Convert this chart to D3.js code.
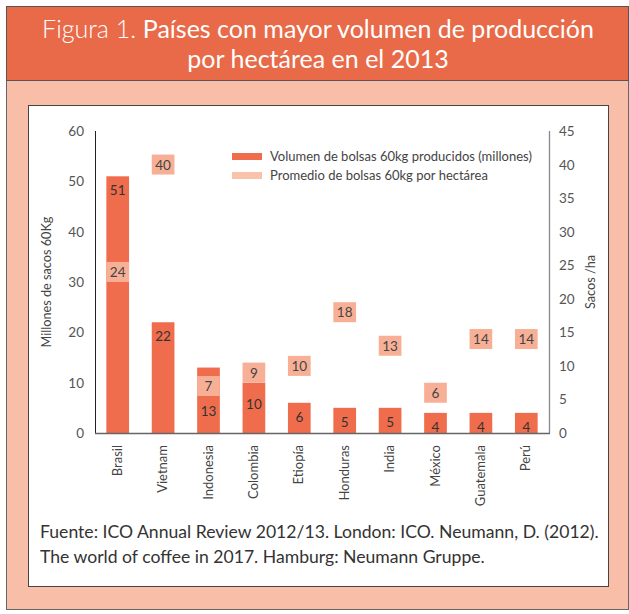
<!DOCTYPE html>
<html>
<head>
<meta charset="utf-8">
<script src="https://cdn.jsdelivr.net/npm/d3@7"></script>
<style>
  body { margin: 0; background: #fff; }
  svg { display: block; font-family: Lato, "Open Sans", sans-serif; }
</style>
</head>
<body>
<svg id="chart" width="629" height="614"></svg>
<script>
var paises = ["Brasil", "Vietnam", "Indonesia", "Colombia", "Etiopía", "Honduras", "India", "México", "Guatemala", "Perú"];
var volumen = [51, 22, 13, 10, 6, 5, 5, 4, 4, 4];
var promedio = [24, 40, 7, 9, 10, 18, 13, 6, 14, 14];
var ticksIzq = [0, 10, 20, 30, 40, 50, 60];
var ticksDer = [0, 5, 10, 15, 20, 25, 30, 35, 40, 45];

var naranja = "#ef6d4d";
var claro = "#f7b096";

var svg = d3.select("#chart");

// marco exterior y banda del titulo
svg.append("rect").attr("x", 6.5).attr("y", 6.5).attr("width", 622).attr("height", 603)
  .style("fill", "#f8bea7").style("stroke", "#666").style("stroke-width", 1);
svg.append("rect").attr("x", 6.5).attr("y", 6.5).attr("width", 622).attr("height", 74)
  .style("fill", "#e96a48").style("stroke", "#555").style("stroke-width", 1);
svg.append("rect").attr("x", 28.5).attr("y", 105.5).attr("width", 580).attr("height", 481)
  .style("fill", "#fff").style("stroke", "#444").style("stroke-width", 1);

var t1 = svg.append("text").attr("x", 318).attr("y", 38).attr("text-anchor", "middle")
  .style("fill", "#fff").style("font-size", "25px");
t1.append("tspan").style("font-weight", 300).text("Figura 1. ");
t1.append("tspan").style("font-weight", 400).text("Países con mayor volumen de producción");
svg.append("text").attr("x", 318).attr("y", 68).attr("text-anchor", "middle")
  .style("fill", "#fff").style("font-size", "25px").text("por hectárea en el 2013");

var pLeft = 95, pRight = 549, pTop = 131, pBottom = 433;

var x = d3.scaleBand().domain(paises).range([pLeft, pRight]).paddingInner(0.5).paddingOuter(0.25);
var yL = d3.scaleLinear().domain([0, 60]).range([pBottom, pTop]);
var yR = d3.scaleLinear().domain([0, 45]).range([pBottom, pTop]);

var g = svg.append("g");

// barras de volumen
g.selectAll(".bar").data(volumen).enter().append("rect")
  .attr("class", "bar")
  .attr("x", function (d, i) { return x(paises[i]); })
  .attr("y", function (d) { return yL(d); })
  .attr("width", x.bandwidth())
  .attr("height", function (d) { return pBottom - yL(d); })
  .style("fill", naranja);

// cajas de promedio por hectarea
var boxH = 20;
g.selectAll(".caja").data(promedio).enter().append("rect")
  .attr("class", "caja")
  .attr("x", function (d, i) { return x(paises[i]); })
  .attr("y", function (d) { return yR(d) - boxH / 2; })
  .attr("width", x.bandwidth())
  .attr("height", boxH)
  .style("fill", claro);

g.selectAll(".lblCaja").data(promedio).enter().append("text")
  .attr("x", function (d, i) { return x(paises[i]) + x.bandwidth() / 2; })
  .attr("y", function (d) { return yR(d) + 5; })
  .attr("text-anchor", "middle")
  .style("font-size", "13.5px").style("fill", "#444")
  .text(function (d) { return d; });

// etiquetas de volumen: dentro del extremo, debajo de la caja si se cruzan
g.selectAll(".lblBar").data(volumen).enter().append("text")
  .attr("x", function (d, i) { return x(paises[i]) + x.bandwidth() / 2; })
  .attr("y", function (d, i) {
    var topBar = yL(d);
    var cajaTop = yR(promedio[i]) - boxH / 2, cajaBot = yR(promedio[i]) + boxH / 2;
    if (cajaBot > topBar - 2 && cajaTop < topBar + 20) return (cajaBot + pBottom) / 2 + 1;
    return topBar + 19;
  })
  .attr("text-anchor", "middle")
  .style("font-size", "13.5px").style("fill", "#333")
  .text(function (d) { return d; });

// ejes
g.append("line").attr("x1", pLeft + 0.5).attr("x2", pLeft + 0.5).attr("y1", pTop).attr("y2", pBottom)
  .style("stroke", "#222");
g.append("line").attr("x1", pRight + 0.5).attr("x2", pRight + 0.5).attr("y1", pTop).attr("y2", pBottom)
  .style("stroke", "#888").style("stroke-width", 1.3);
g.append("line").attr("x1", pLeft).attr("x2", pRight + 1).attr("y1", pBottom + 0.5).attr("y2", pBottom + 0.5)
  .style("stroke", "#666").style("stroke-width", 1.3);

g.selectAll(".tickL").data(ticksIzq).enter().append("text")
  .attr("x", pLeft - 11).attr("y", function (d) { return yL(d) + 5; })
  .attr("text-anchor", "end").style("font-size", "13.5px").style("fill", "#555")
  .text(function (d) { return d; });

g.selectAll(".tickR").data(ticksDer).enter().append("text")
  .attr("x", pRight + 10).attr("y", function (d) { return yR(d) + 5; })
  .attr("text-anchor", "start").style("font-size", "13.5px").style("fill", "#555")
  .text(function (d) { return d; });

g.append("text").attr("transform", "translate(51," + (pTop + pBottom) / 2 + ") rotate(-90)")
  .attr("text-anchor", "middle").style("font-size", "12.7px").style("fill", "#444")
  .text("Millones de sacos 60Kg");
g.append("text").attr("transform", "translate(595," + (pTop + pBottom) / 2 + ") rotate(-90)")
  .attr("text-anchor", "middle").style("font-size", "12.7px").style("fill", "#444")
  .text("Sacos /ha");

g.selectAll(".cat").data(paises).enter().append("text")
  .attr("transform", function (d) {
    return "translate(" + (x(d) + x.bandwidth() / 2 + 4) + "," + (pBottom + 12) + ") rotate(-90)";
  })
  .attr("text-anchor", "end").style("font-size", "13px").style("fill", "#444")
  .text(function (d) { return d; });

// leyenda
var leyenda = [
  { nombre: "Volumen de bolsas 60kg producidos (millones)", color: naranja },
  { nombre: "Promedio de bolsas 60kg por hectárea", color: "#f9c3ab" }
];
var lg = g.selectAll(".ley").data(leyenda).enter().append("g")
  .attr("transform", function (d, i) { return "translate(232," + (153 + i * 19) + ")"; });
lg.append("rect").attr("width", 30).attr("height", 7).style("fill", function (d) { return d.color; });
lg.append("text").attr("x", 38).attr("y", 8).style("font-size", "13px").style("fill", "#444")
  .text(function (d) { return d.nombre; });

// fuente
svg.append("text").attr("x", 40).attr("y", 538).style("font-size", "17.6px").style("fill", "#333")
  .text("Fuente: ICO Annual Review 2012/13. London: ICO. Neumann, D. (2012).");
svg.append("text").attr("x", 40).attr("y", 563).style("font-size", "17.6px").style("fill", "#333")
  .text("The world of coffee in 2017. Hamburg: Neumann Gruppe.");
</script>
</body>
</html>
